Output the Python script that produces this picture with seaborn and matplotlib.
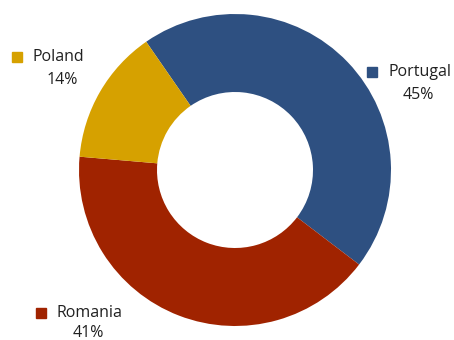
import matplotlib
matplotlib.use("Agg")
import matplotlib.pyplot as plt
import seaborn as sns

countries = ["Portugal", "Romania", "Poland"]
shares = [45, 41, 14]
colors = ["#2E5081", "#A02300", "#D6A100"]

sns.set_theme(style="white")
plt.rcParams["font.family"] = ["Open Sans", "DejaVu Sans"]

W, H = 454, 340
cx, cy, R = 235, 170, 156  # pixel centre and radius

fig = plt.figure(figsize=(W / 100, H / 100), dpi=100)
ax = fig.add_axes([0, 0, 1, 1])
ax.pie(shares, colors=colors, startangle=124.7, counterclock=False,
       radius=1.0, wedgeprops=dict(width=0.5, edgecolor="none", linewidth=0))
ax.set_xlim(-cx / R, (W - cx) / R)
ax.set_ylim(-(H - cy) / R, cy / R)
ax.set_aspect("auto")
ax.axis("off")

def px(x, y):
    return (x - cx) / R, (cy - y) / R

# label layout: marker pixel pos, name pixel pos, pct pixel pos
layout = {
    "Poland": ((17, 57), (32, 57), (62, 80)),
    "Portugal": ((372, 72), (388, 72), (418, 95)),
    "Romania": ((41, 313), (56, 313), (88, 333)),
}
for name, share, col in zip(countries, shares, colors):
    m, t, p = layout[name]
    mx, my = px(*m)
    ax.plot([mx], [my], marker="s", markersize=7.5, color=col, linestyle="none")
    tx, ty = px(*t)
    ax.text(tx, ty, name, ha="left", va="center", fontsize=11.5, color="#202020")
    pxx, pyy = px(*p)
    ax.text(pxx, pyy, f"{share}%", ha="center", va="center", fontsize=11.5, color="#202020")

fig.savefig("out.png", dpi=100)
